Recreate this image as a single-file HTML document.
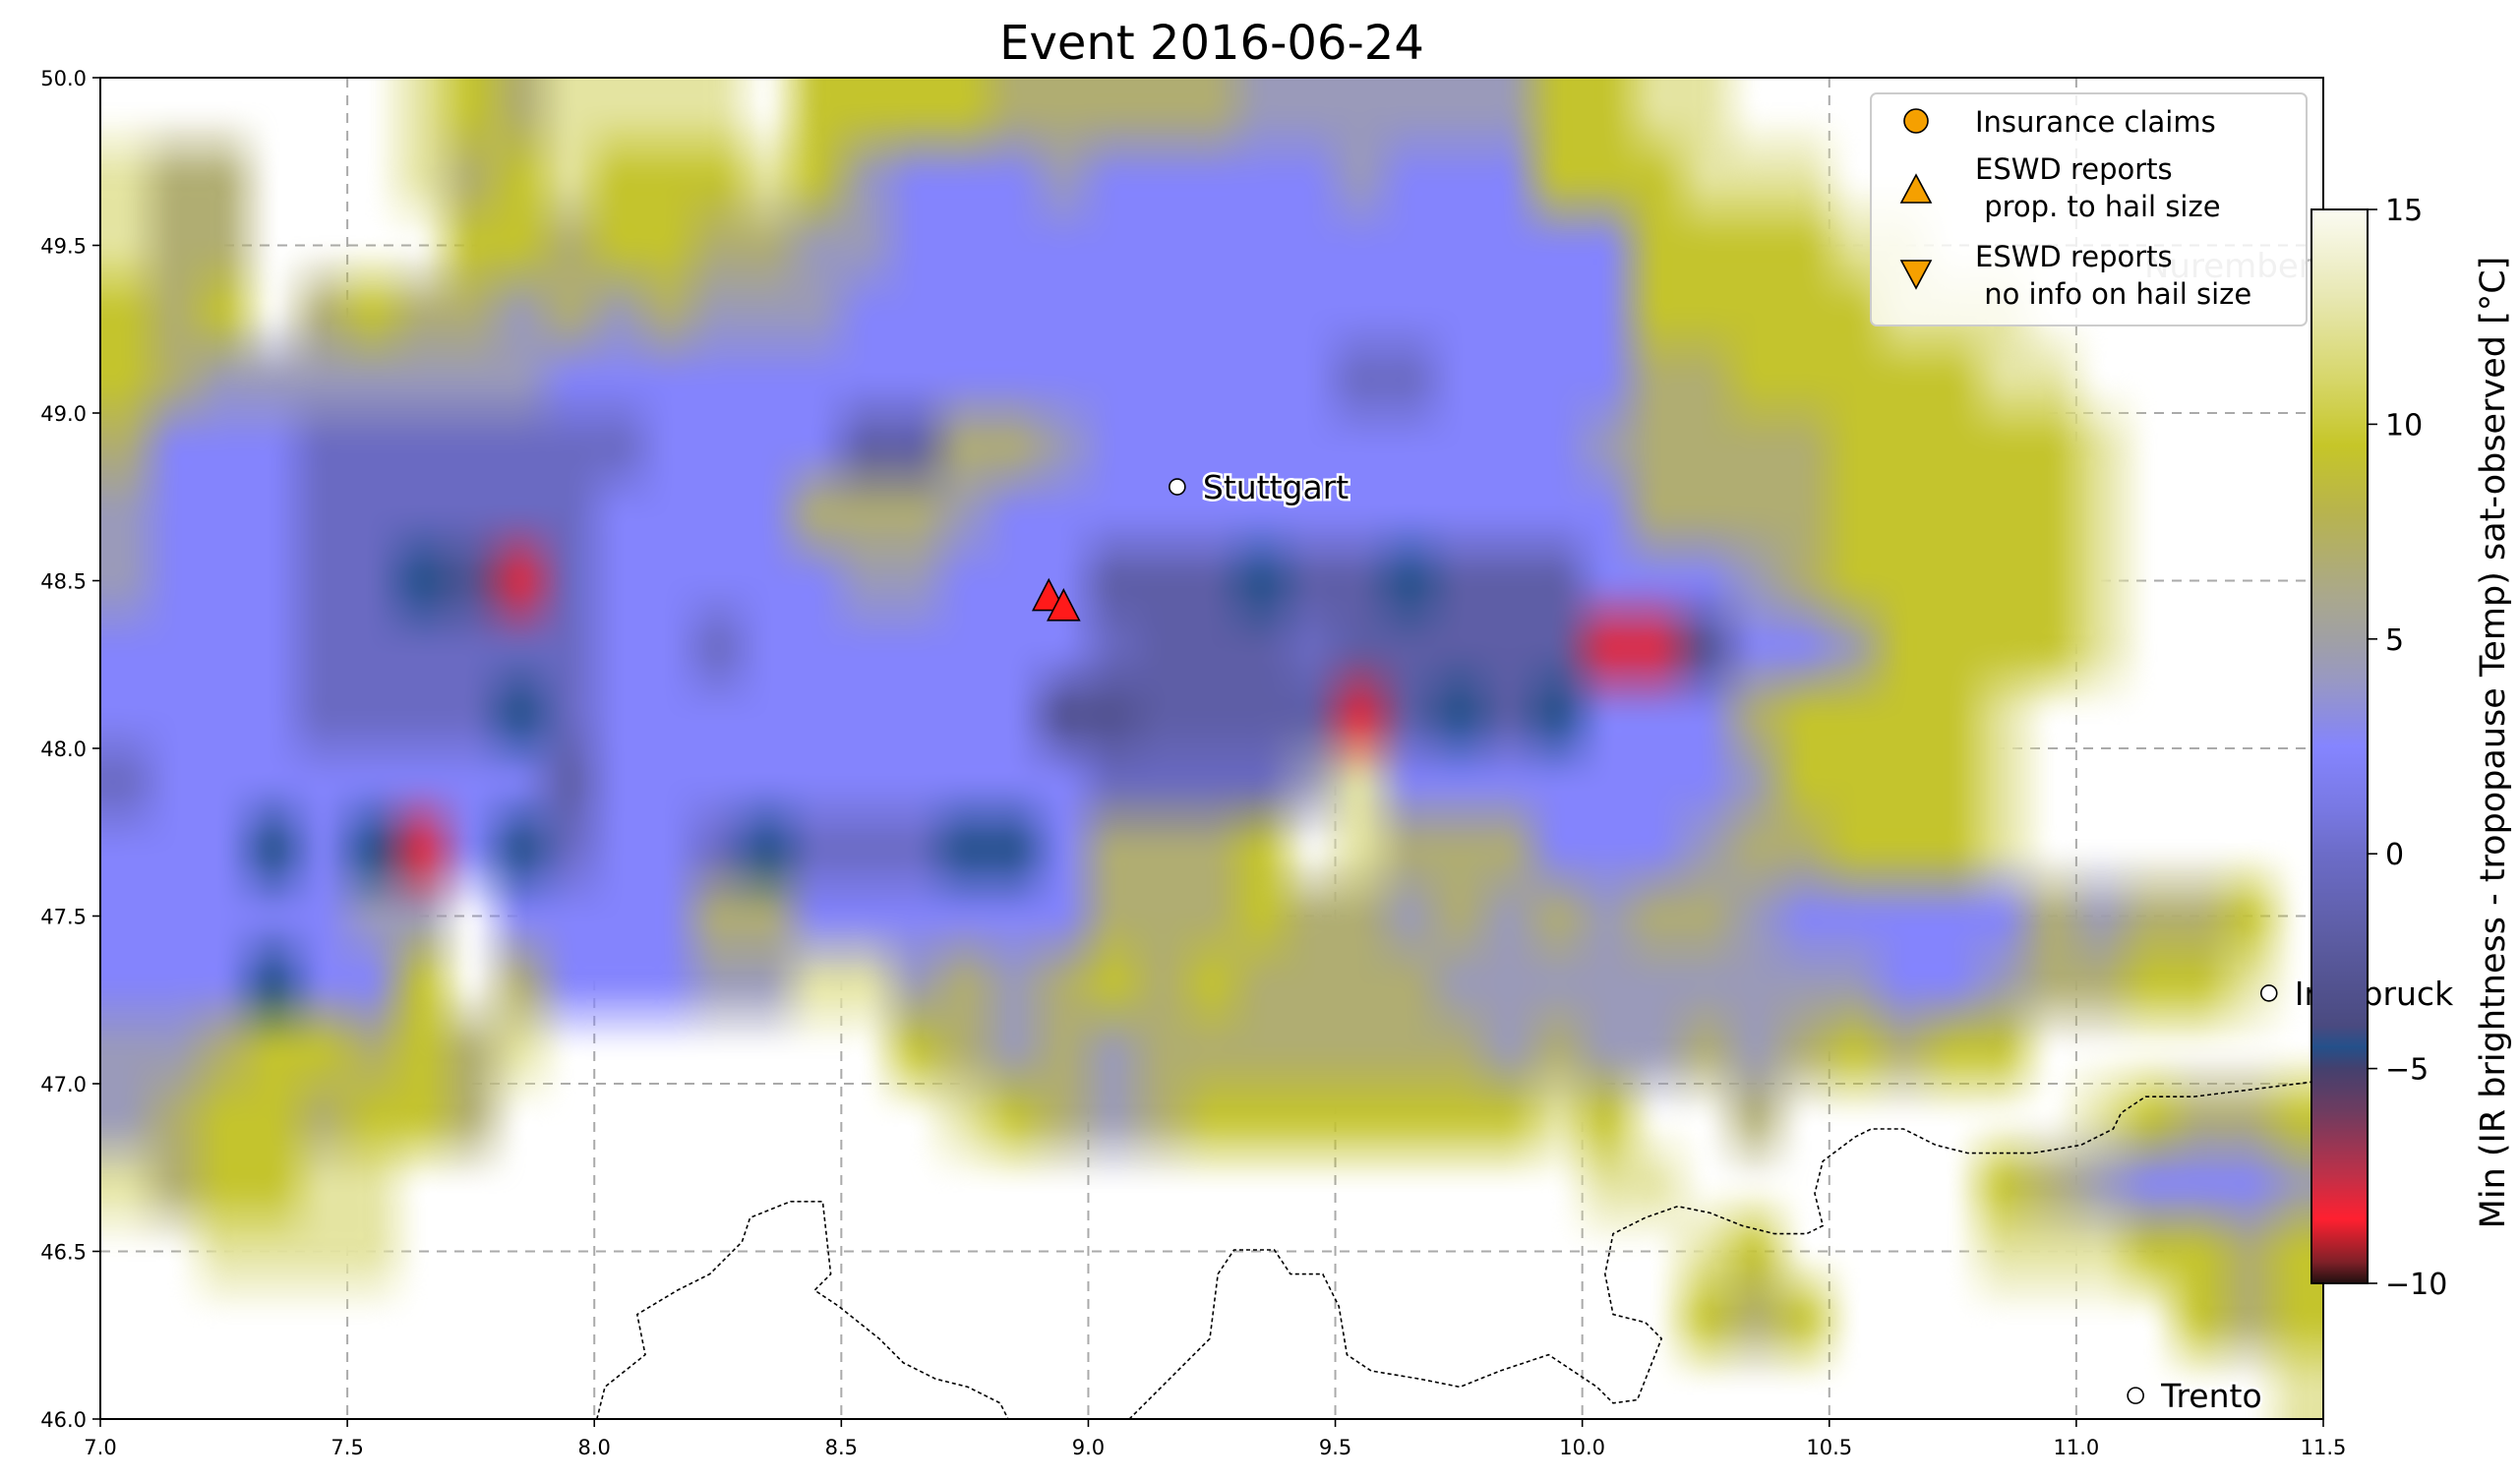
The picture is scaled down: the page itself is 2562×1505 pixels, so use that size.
<!DOCTYPE html>
<html><head><meta charset="utf-8">
<style>
html,body{margin:0;padding:0;background:#fff;}
#wrap{position:relative;width:2562px;height:1505px;overflow:hidden;font-family:"DejaVu Sans","Liberation Sans",sans-serif;}
svg,canvas{position:absolute;left:0;top:0;}
text{font-family:"DejaVu Sans","Liberation Sans",sans-serif;}
</style></head>
<body>
<div id="wrap">
<svg id="bg" width="2562" height="1505"></svg>
<canvas id="map" width="2260" height="1364" style="left:102px;top:79px;"></canvas>
<svg id="fg" width="2562" height="1505"></svg>
</div>
<script>
// ---- data ----
const lonTicks = [7.0,7.5,8.0,8.5,9.0,9.5,10.0,10.5,11.0,11.5];
const latTicks = [46.0,46.5,47.0,47.5,48.0,48.5,49.0,49.5,50.0];
const cbTicks = [15,10,5,0,-5,-10];
const codeValues = {p:12.5,y:9.3,g:6.8,l:4.3,b:2.4,m:-0.3,d:-1.8,k:-3.2,n:-4.5,r:-8};
// rows from lat 50.0 down to 46.0, 0.2 deg each; 45 columns of 0.1 deg from lon 7.0
const gridRows = [
"......pygpppp.yyyygggggllllllyypp............",
"pgg...pgypyyypylbbblbbbbblbbbyyyppp..........",
"pgg....yygyyggllbbbbbbbbbbbbbbbyyyypp........",
"ygy.gygglglglllbbbbbbbbbbbbbbbbyyyyyppp......",
"yglllllllbbbbbbbbbbbbbbbbmmbbbbggyyyyypp.....",
"gbbbmmmmmmmbbbbddgglbbbbbbbbbblggggyyyyyp....",
"lbbbmmmmmmbbbbggglbbbbbbbbbbbbbggggyyyyyp....",
"lbbbmmnkrmbbbbbllbbbdddnddndddbbblgyyyyyp....",
"bbbbmmmmmmbbmbbbbbbbmdddmdddddrrkbblyyyyp....",
"bbbbmmmmnmbbbbbbbbbkkddddrdndnbbbgyyyyp......",
"mbbbbbbbbdbbbbbbbbbbmmmmlpbbbbbbblyyyyp......",
"bbbnbnrbnmbbmnmmmnnbgggy.pgggbbblggyyyp......",
"bbbbbll.bbbbggbbbbbbgggygglglglgglbbbbbglggy.",
"bbbnbby.gbbbllpplglgygygggglllllllllbblggyyp..",
"llgyygygp.......yglglggggggglgllglgygyy......",
"lgyygyyg.........pyglgyyyyyyypy..g......pyggy",
"pgyypp........................pp......yglbbbl",
"..pppp..........................py....pppyygy",
"................................ygy.......ygy",
"............................................p"
];
// colormap stops: value -> color
const cmapVals = [15,13,11,9.5,8,6,5,4,3,2.5,1,0,-2,-4,-4.5,-5,-6,-7.5,-8.5,-9.5,-10];
const cmapCols = ["#fbfbf2","#e8e8b4","#d6d668","#c6c628","#b8b44c","#aaa88c","#a0a0a4","#9898c4","#8a8ae8","#8585ff","#7878e2","#6c6cc8","#5c5ca2","#4a4a80","#24508a","#44406e","#6e3c60","#c03048","#ff2030","#802028","#201010"];
// city / report markers (lon, lat)
const cities = [["Stuttgart",9.18,48.78],["Innsbruck",11.39,47.27],["Trento",11.12,46.07]];
const reportLons = [8.92,8.95];
const reportLats = [48.45,48.42];

// ---- scales ----
const PL=102,PT=79,PW=2260,PH=1364;
const xS = lon => PL + (lon-7)/(11.5-7)*PW;
const yS = lat => PT + (50-lat)/(50-46)*PH;
const CBT=213,CBB=1305,CBL=2350,CBR=2407;
const cbY = v => CBB - (v+10)/25*(CBB-CBT);

function hex(c){return [parseInt(c.substr(1,2),16),parseInt(c.substr(3,2),16),parseInt(c.substr(5,2),16)];}
function cmap(v){
  for(let i=0;i<cmapVals.length-1;i++){
    const a=cmapVals[i],b=cmapVals[i+1];
    if(v<=a && v>=b){const t=(a-v)/(a-b);const c1=hex(cmapCols[i]),c2=hex(cmapCols[i+1]);
      return c1.map((x,j)=>Math.round(x+(c2[j]-x)*t));}
  }
  return v>15?hex(cmapCols[0]):hex(cmapCols[cmapCols.length-1]);
}

const NS="http://www.w3.org/2000/svg";
function mk(parent,tag,attrs,text){const e=document.createElementNS(NS,tag);for(const k in attrs)e.setAttribute(k,attrs[k]);if(text!==undefined)e.textContent=text;parent.appendChild(e);return e;}

// ---- background gridlines ----
const bg=document.getElementById('bg');
lonTicks.slice(1,-1).forEach(l=>{
  const g=mk(bg,'line',{x1:xS(l),x2:xS(l),y1:PT,y2:PT+PH,stroke:'#aaa','stroke-width':2,'stroke-dasharray':'10,8'});
  
  
});
latTicks.slice(1,-1).forEach(l=>{
  const g=mk(bg,'line',{x1:PL,x2:PL+PW,y1:yS(l),y2:yS(l),stroke:'#aaa','stroke-width':2,'stroke-dasharray':'10,8'});
  
  
});

// ---- map raster ----
const nC=45,nR=gridRows.length;
const small=document.createElement('canvas');small.width=nC;small.height=nR;
const sctx=small.getContext('2d');const img=sctx.createImageData(nC,nR);
for(let r=0;r<nR;r++)for(let c=0;c<nC;c++){
  const ch=gridRows[r][c];const k=(r*nC+c)*4;
  if(ch==='.'||ch===undefined||codeValues[ch]===undefined){img.data[k+3]=0;continue;}
  const col=cmap(codeValues[ch]);img.data[k]=col[0];img.data[k+1]=col[1];img.data[k+2]=col[2];img.data[k+3]=255;
}
sctx.putImageData(img,0,0);
const mid=document.createElement('canvas');mid.width=nC*4;mid.height=nR*4;
const mctx=mid.getContext('2d');mctx.imageSmoothingEnabled=true;mctx.drawImage(small,0,0,mid.width,mid.height);
const ctx=document.getElementById('map').getContext('2d');
ctx.imageSmoothingEnabled=true;ctx.imageSmoothingQuality='high';
ctx.drawImage(mid,0,0,PW,PH);

// ---- foreground ----
const fg=document.getElementById('fg');
const b1=[[370,880],[375,860],[400,840],[395,815],[420,800],[440,790],[460,770],[465,755],[490,745],[510,745],[515,790],[505,800],[520,810],[545,830],[560,845],[580,855],[600,860],[620,870],[625,880]];
const b2=[[700,880],[720,860],[735,845],[750,830],[755,790],[765,775],[790,775],[800,790],[820,790],[830,810],[835,840],[850,850],[880,855],[905,860],[930,850],[960,840],[975,850],[990,860],[1000,870],[1015,868],[1030,830],[1020,820],[1000,815],[995,790],[1000,765],[1020,755],[1040,748],[1060,752],[1080,760],[1100,765],[1120,765],[1130,760],[1125,740],[1130,720],[1150,705],[1160,700],[1180,700],[1200,710],[1220,715],[1260,715],[1290,710],[1310,700],[1315,690],[1330,680],[1360,680],[1400,675],[1440,670]];
[b1,b2].forEach(b=>{
  const p=mk(fg,'polyline',{points:b.map(q=>(q[0]*1.64).toFixed(1)+','+(q[1]*1.64).toFixed(1)).join(' '),fill:'none',stroke:'#000','stroke-width':1.6,'stroke-dasharray':'4,3'});
  
  
});
const nur=mk(fg,'text',{x:2180,y:282,'font-size':34,fill:'#bbb'},'Nuremberg');


cities.forEach(c=>{
  const cx=xS(c[1]),cy=yS(c[2]);
  const ci=mk(fg,'circle',{cx:cx,cy:cy,r:8,fill:'#fff',stroke:'#000','stroke-width':1.6});
  
  
  const t=mk(fg,'text',{x:cx+26,y:cy+12,'font-size':33,fill:'#000',stroke:'#fff','stroke-width':5,'paint-order':'stroke'},c[0]);
  
  
});
reportLons.forEach((lo,i)=>{
  const x=xS(lo),y=yS(reportLats[i]);
  const tr=mk(fg,'polygon',{points:`${x},${y-18} ${x-16},${y+13} ${x+16},${y+13}`,fill:'#ff1a1a',stroke:'#000','stroke-width':1.6});
  
  
});
const fr=mk(fg,'rect',{x:PL,y:PT,width:PW,height:PH,fill:'none',stroke:'#000','stroke-width':2});


lonTicks.forEach(l=>{
  const tk=mk(fg,'line',{x1:xS(l),x2:xS(l),y1:PT+PH,y2:PT+PH+8,stroke:'#000','stroke-width':1.6});
  
  
  const t=mk(fg,'text',{x:xS(l),y:PT+PH+36,'font-size':21,'text-anchor':'middle'},l.toFixed(1));
  
  
});
latTicks.forEach(l=>{
  const tk=mk(fg,'line',{x1:PL-8,x2:PL,y1:yS(l),y2:yS(l),stroke:'#000','stroke-width':1.6});
  
  
  const t=mk(fg,'text',{x:PL-14,y:yS(l)+8,'font-size':21,'text-anchor':'end'},l.toFixed(1));
  
  
});
const ti=mk(fg,'text',{x:1232,y:60,'font-size':48,'text-anchor':'middle'},'Event 2016-06-24');


// legend
const lg=mk(fg,'g',{});


mk(lg,'rect',{x:1902,y:95,width:443,height:236,rx:6,fill:'#fff','fill-opacity':0.8,stroke:'#ccc','stroke-width':2});
const lc=mk(lg,'circle',{cx:1948,cy:123,r:12,fill:'#f5a000',stroke:'#000','stroke-width':1.6});


mk(lg,'text',{x:2008,y:134,'font-size':29},'Insurance claims');
const lt1=mk(lg,'polygon',{points:'1948,178 1933,206 1963,206',fill:'#f5a000',stroke:'#000','stroke-width':1.6});


mk(lg,'text',{x:2008,y:182,'font-size':29},'ESWD reports');
mk(lg,'text',{x:2008,y:220,'font-size':29},'\u00a0prop. to hail size');
const lt2=mk(lg,'polygon',{points:'1933,265 1963,265 1948,293',fill:'#f5a000',stroke:'#000','stroke-width':1.6});


mk(lg,'text',{x:2008,y:271,'font-size':29},'ESWD reports');
mk(lg,'text',{x:2008,y:309,'font-size':29},'\u00a0no info on hail size');
// colorbar
const defs=mk(fg,'defs',{});
const grad=mk(defs,'linearGradient',{id:'cbg',x1:0,y1:0,x2:0,y2:1});
cmapVals.forEach((v,i)=>mk(grad,'stop',{offset:((15-v)/25).toFixed(4),'stop-color':cmapCols[i]}));
const cb=mk(fg,'rect',{x:CBL,y:CBT,width:CBR-CBL,height:CBB-CBT,fill:'url(#cbg)',stroke:'#000','stroke-width':2});


cbTicks.forEach(v=>{
  const tk=mk(fg,'line',{x1:CBR,x2:CBR+10,y1:cbY(v),y2:cbY(v),stroke:'#000','stroke-width':1.6});
  
  
  const t=mk(fg,'text',{x:CBR+18,y:cbY(v)+11,'font-size':30},v<0?'\u2212'+Math.abs(v):String(v));
  
  
});
const cl=mk(fg,'text',{x:2546,y:755,'font-size':35,'text-anchor':'middle',transform:'rotate(-90 2546 755)'},'Min (IR brightness - tropopause Temp) sat-observed [°C]');


</script>
</body></html>
